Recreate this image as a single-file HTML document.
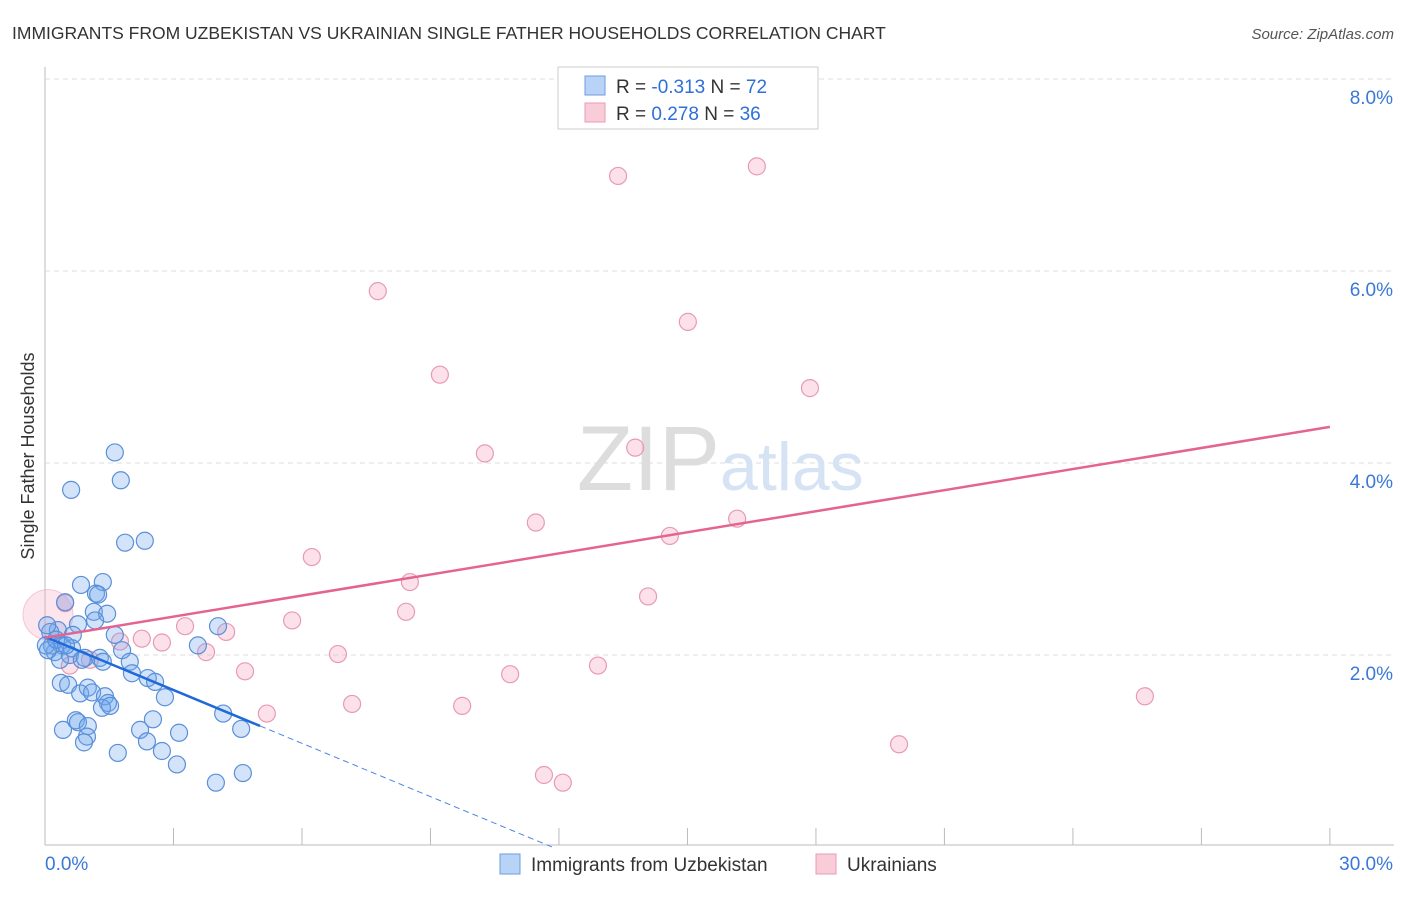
<!DOCTYPE html>
<html><head><meta charset="utf-8"><style>
body{margin:0;background:#fff;font-family:"Liberation Sans",sans-serif}
svg text{font-family:"Liberation Sans",sans-serif}
</style></head><body>
<svg id="c" width="1406" height="892">
<text x="12" y="39" font-size="17.5" fill="#333">IMMIGRANTS FROM UZBEKISTAN VS UKRAINIAN SINGLE FATHER HOUSEHOLDS CORRELATION CHART</text>
<text x="1394" y="39" font-size="15" fill="#555" font-style="italic" text-anchor="end">Source: ZipAtlas.com</text>
<text x="34" y="456" font-size="18" fill="#333" text-anchor="middle" transform="rotate(-90 34 456)">Single Father Households</text>
<g id="grid"></g>
<text x="720" y="490" font-size="92" fill="#ddd" text-anchor="end" font-family="Liberation Serif">ZIP</text>
<text x="720" y="490" font-size="68" fill="#d5e3f5">atlas</text>
<g id="marks"></g>
<g>
<rect x="558" y="67" width="260" height="62" fill="#fff" stroke="#ccc"/>
<rect x="585" y="76" width="20" height="19" fill="#b9d3f7" stroke="#6b9ee0"/>
<rect x="585" y="103" width="20" height="19" fill="#f9ccd9" stroke="#ea9ab5"/>
<text x="616" y="93" font-size="19" fill="#333">R = <tspan fill="#2f6fd8">-0.313</tspan>   N = <tspan fill="#2f6fd8">72</tspan></text>
<text x="616" y="120" font-size="19" fill="#333">R =  <tspan fill="#2f6fd8">0.278</tspan>   N = <tspan fill="#2f6fd8">36</tspan></text>
</g>
<g>
<rect x="500" y="854" width="20" height="20" fill="#b9d3f7" stroke="#6b9ee0"/>
<text x="531" y="871" font-size="19" fill="#333">Immigrants from Uzbekistan</text>
<rect x="816" y="854" width="20" height="20" fill="#f9ccd9" stroke="#ea9ab5"/>
<text x="847" y="871" font-size="19" fill="#333">Ukrainians</text>
</g>
</svg>
<script>
const xTicks=[0,3,6,9,12,15,18,21,24,27,30];
const yTicks=[2,4,6,8];
const blueX=[1.63,0.61,1.77,1.87,2.33,0.84,1.35,0.47,1.19,1.24,1.14,1.45,1.17,0.77,0.65,0.30,0.12,1.63,0.16,0.40,0.23,0.63,0.35,0.58,0.93,1.28,1.35,1.80,0.86,1.98,2.03,2.40,2.57,2.80,3.57,4.04,0.37,0.54,0.82,1.00,1.10,1.40,1.47,1.33,1.52,2.52,4.16,4.58,0.42,0.72,0.77,1.00,0.98,0.91,2.22,2.38,3.13,1.70,2.73,3.08,3.99,4.62,0.05,0.02,0.07,0.26,0.49];
const blueY=[4.11,3.72,3.82,3.17,3.19,2.73,2.76,2.55,2.64,2.63,2.45,2.43,2.36,2.32,2.21,2.26,2.24,2.21,2.10,2.10,2.03,2.07,1.95,2.00,1.97,1.97,1.93,2.05,1.95,1.93,1.81,1.76,1.72,1.56,2.10,2.30,1.71,1.69,1.60,1.66,1.61,1.57,1.50,1.45,1.47,1.33,1.39,1.23,1.22,1.32,1.30,1.26,1.15,1.09,1.22,1.10,1.19,0.98,1.00,0.86,0.67,0.77,2.31,2.10,2.05,2.16,2.10];
const pinkX=[13.38,16.62,7.77,15.01,9.22,17.86,10.27,13.78,11.46,16.16,14.59,6.23,8.52,14.08,0.47,5.77,8.43,3.27,4.23,2.26,2.73,1.75,3.76,6.84,12.91,4.67,10.86,7.17,9.74,5.18,25.68,19.94,11.65,12.09,0.58,1.05];
const pinkY=[6.99,7.09,5.79,5.47,4.92,4.78,4.10,4.16,3.38,3.42,3.24,3.02,2.76,2.61,2.54,2.36,2.45,2.30,2.24,2.17,2.13,2.14,2.03,2.01,1.89,1.83,1.80,1.49,1.47,1.39,1.57,1.07,0.75,0.67,1.89,1.95];
const blueTrend=[2.19,-0.185];
const pinkTrend=[2.18,0.0732];
const X=v=>45+v*42.83, Y=v=>847-v*96;
const NS="http://www.w3.org/2000/svg";
const grid=document.getElementById('grid'), marks=document.getElementById('marks');
function mk(p,tag,a){const e=document.createElementNS(NS,tag);for(const k in a)e.setAttribute(k,a[k]);p.appendChild(e);return e;}
const ax=mk(grid,'line',{x1:45,y1:845,x2:1394,y2:845,stroke:'#bbb'});


const ay=mk(grid,'line',{x1:45,y1:67,x2:45,y2:845,stroke:'#bbb'});


xTicks.forEach(t=>{const l=mk(grid,'line',{x1:X(t),y1:828,x2:X(t),y2:845,stroke:'#bbb'});

});
yTicks.forEach(t=>{const l=mk(grid,'line',{x1:45,y1:Y(t),x2:1394,y2:Y(t),stroke:'#ddd','stroke-dasharray':'5,4'});


const tx=mk(grid,'text',{x:1393,y:Y(t)+25,'font-size':19,fill:'#3a78d8','text-anchor':'end'});tx.textContent=t.toFixed(1)+'%';

});
const x0=mk(grid,'text',{x:45,y:870,'font-size':19,fill:'#3a78d8'});x0.textContent='0.0%';


const x1=mk(grid,'text',{x:1393,y:870,'font-size':19,fill:'#3a78d8','text-anchor':'end'});x1.textContent='30.0%';


const big=mk(marks,'circle',{cx:X(0.07),cy:Y(2.42),r:25,fill:'rgba(245,170,195,0.3)',stroke:'rgba(232,154,181,0.5)'});


pinkX.forEach((v,i)=>{const c=mk(marks,'circle',{cx:X(v),cy:Y(pinkY[i]),r:8.5,fill:'rgba(245,170,195,0.35)',stroke:'#e89ab5','stroke-width':1.2});

});
blueX.forEach((v,i)=>{const c=mk(marks,'circle',{cx:X(v),cy:Y(blueY[i]),r:8.5,fill:'rgba(110,165,240,0.3)',stroke:'#5a8fd8','stroke-width':1.2});

});
const xEnd=(0-blueTrend[0])/blueTrend[1];
const bd=mk(marks,'line',{x1:X(5.02),y1:Y(blueTrend[0]+blueTrend[1]*5.02),x2:X(xEnd),y2:Y(0),stroke:'#4a86e0','stroke-width':1,'stroke-dasharray':'6,4'});


const bl=mk(marks,'line',{x1:X(0),y1:Y(blueTrend[0]),x2:X(5.02),y2:Y(blueTrend[0]+blueTrend[1]*5.02),stroke:'#2069d8','stroke-width':2.5});


const pl=mk(marks,'line',{x1:X(0),y1:Y(pinkTrend[0]),x2:X(30),y2:Y(pinkTrend[0]+pinkTrend[1]*30),stroke:'#e5648f','stroke-width':2.5});


</script>
</body></html>
